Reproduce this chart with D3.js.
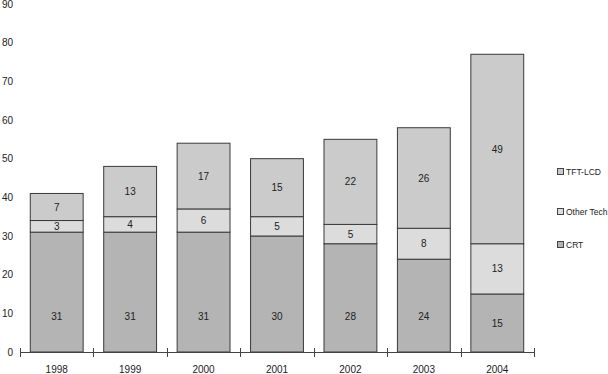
<!DOCTYPE html>
<html><head><meta charset="utf-8">
<script src="https://cdn.jsdelivr.net/npm/d3@7/dist/d3.min.js"></script>
<style>body{margin:0;background:#fff}svg{display:block}text{font-family:"Liberation Sans",Arial,Helvetica,sans-serif;fill:#222}</style>
</head><body>
<script>
const years = ["1998","1999","2000","2001","2002","2003","2004"];
const crt = [31,31,31,30,28,24,15];
const otherTech = [3,4,6,5,5,8,13];
const tftLcd = [7,13,17,15,22,26,49];
const seriesNames = ["CRT","Other Tech","TFT-LCD"];
const yTicks = [0,10,20,30,40,50,60,70,80,90];

const W=608,H=374;
const svg=d3.select("body").append("svg").attr("width",W).attr("height",H);
const x=d3.scaleBand().domain(years).range([20,534]).paddingInner(0.28).paddingOuter(0.14);
const y=d3.scaleLinear().domain([0,90]).range([352,4]);
const fills={"CRT":"#b4b4b4","Other Tech":"#dcdcdc","TFT-LCD":"#cbcbcb"};

const rows=years.map((yr,i)=>({year:yr,"CRT":crt[i],"Other Tech":otherTech[i],"TFT-LCD":tftLcd[i]}));
const stack=d3.stack().keys(seriesNames)(rows);

// y labels
svg.append("g").selectAll("text").data(yTicks).join("text")
  .attr("x",13).attr("y",d=>y(d)).attr("dy","0.35em").attr("text-anchor","end")
  .attr("font-size",10).text(d=>d);

// bars
stack.forEach(s=>{
  const g=svg.append("g");
  g.selectAll("rect").data(s).join("rect")
    .attr("x",d=>x(d.data.year)).attr("width",x.bandwidth())
    .attr("y",d=>y(d[1])).attr("height",d=>y(d[0])-y(d[1]))
    .attr("fill",fills[s.key]).attr("stroke","#3a3a3a").attr("stroke-width",1);
  g.selectAll("text").data(s).join("text")
    .attr("x",d=>x(d.data.year)+x.bandwidth()/2)
    .attr("y",d=>{const h=y(d[0])-y(d[1]);return s.key==="CRT"?y(d[0])-Math.min(h/2,36):(y(d[0])+y(d[1]))/2;})
    .attr("dy","0.35em").attr("text-anchor","middle").attr("font-size",10)
    .text(d=>d[1]-d[0]);
});

// x axis
const ax=svg.append("g");
ax.append("line").attr("x1",20).attr("x2",534).attr("y1",352.5).attr("y2",352.5).attr("stroke","#444");
const bounds=[x.range()[0]].concat(years.map((yr,i)=>20+(i+1)*(514/years.length)));
ax.selectAll("line.t").data(bounds).join("line").attr("class","t")
  .attr("x1",d=>Math.round(d)+0.5).attr("x2",d=>Math.round(d)+0.5).attr("y1",348).attr("y2",357).attr("stroke","#444");
ax.selectAll("text").data(years).join("text")
  .attr("x",d=>x(d)+x.bandwidth()/2).attr("y",373).attr("text-anchor","middle").attr("font-size",10).text(d=>d);

// legend
const legY={"TFT-LCD":172,"Other Tech":212,"CRT":245};
const lg=svg.append("g");
seriesNames.slice().reverse().forEach(k=>{
  lg.append("rect").attr("x",557.5).attr("y",legY[k]-3.5).attr("width",6).attr("height",6)
    .attr("fill",fills[k]).attr("stroke","#444");
  lg.append("text").attr("x",566).attr("y",legY[k]).attr("dy","0.35em").attr("font-size",8.5).text(k);
});
</script>
</body></html>
